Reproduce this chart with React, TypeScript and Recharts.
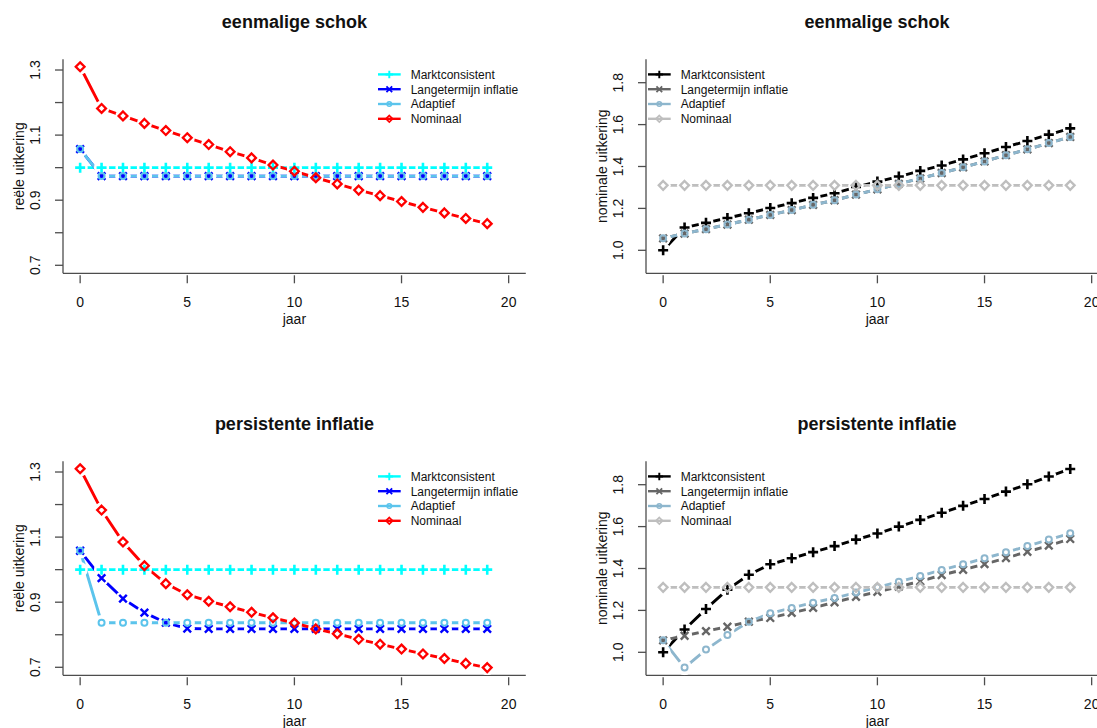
import React from 'react';
import { LineChart, Line, XAxis, YAxis, Legend } from 'recharts';

const jaren = [0, 1, 2, 3, 4, 5, 6, 7, 8, 9, 10, 11, 12, 13, 14, 15, 16, 17, 18, 19];

// eenmalige schok, reële uitkering
const schokReeelMarkt = [1.0, 1.0, 1.0, 1.0, 1.0, 1.0, 1.0, 1.0, 1.0, 1.0, 1.0, 1.0, 1.0, 1.0, 1.0, 1.0, 1.0, 1.0, 1.0, 1.0];
const schokReeelLange = [1.057, 0.974, 0.974, 0.974, 0.974, 0.974, 0.974, 0.974, 0.974, 0.974, 0.974, 0.974, 0.974, 0.974, 0.974, 0.974, 0.974, 0.974, 0.974, 0.974];
const schokReeelAdaptief = [1.057, 0.974, 0.974, 0.974, 0.974, 0.974, 0.974, 0.974, 0.974, 0.974, 0.974, 0.974, 0.974, 0.974, 0.974, 0.974, 0.974, 0.974, 0.974, 0.974];
const schokReeelNominaal = [1.31, 1.182, 1.159, 1.136, 1.114, 1.092, 1.071, 1.049, 1.03, 1.008, 0.989, 0.969, 0.95, 0.931, 0.914, 0.896, 0.878, 0.861, 0.844, 0.828];

// eenmalige schok, nominale uitkering
const schokNomMarkt = [1.0, 1.109, 1.131, 1.154, 1.177, 1.202, 1.225, 1.25, 1.272, 1.302, 1.328, 1.352, 1.379, 1.405, 1.434, 1.463, 1.493, 1.522, 1.552, 1.582];
const schokNomLange = [1.057, 1.08, 1.101, 1.123, 1.146, 1.169, 1.192, 1.217, 1.239, 1.266, 1.291, 1.317, 1.343, 1.369, 1.396, 1.424, 1.454, 1.482, 1.512, 1.541];
const schokNomAdaptief = [1.057, 1.08, 1.101, 1.123, 1.146, 1.169, 1.192, 1.217, 1.239, 1.266, 1.291, 1.317, 1.343, 1.369, 1.396, 1.424, 1.454, 1.482, 1.512, 1.541];
const schokNomNominaal = [1.31, 1.31, 1.31, 1.31, 1.31, 1.31, 1.31, 1.31, 1.31, 1.31, 1.31, 1.31, 1.31, 1.31, 1.31, 1.31, 1.31, 1.31, 1.31, 1.31];

// persistente inflatie, reële uitkering
const persReeelMarkt = [1.0, 1.0, 1.0, 1.0, 1.0, 1.0, 1.0, 1.0, 1.0, 1.0, 1.0, 1.0, 1.0, 1.0, 1.0, 1.0, 1.0, 1.0, 1.0, 1.0];
const persReeelLange = [1.058, 0.974, 0.911, 0.868, 0.837, 0.819, 0.818, 0.818, 0.818, 0.818, 0.818, 0.818, 0.818, 0.818, 0.818, 0.818, 0.818, 0.818, 0.818, 0.818];
const persReeelAdaptief = [1.058, 0.837, 0.837, 0.837, 0.837, 0.837, 0.837, 0.837, 0.837, 0.837, 0.837, 0.837, 0.837, 0.837, 0.837, 0.837, 0.837, 0.837, 0.837, 0.837];
const persReeelNominaal = [1.31, 1.183, 1.085, 1.012, 0.957, 0.923, 0.903, 0.886, 0.869, 0.852, 0.836, 0.818, 0.803, 0.786, 0.771, 0.756, 0.741, 0.727, 0.712, 0.699];

// persistente inflatie, nominale uitkering
const persNomMarkt = [1.0, 1.109, 1.207, 1.299, 1.37, 1.42, 1.449, 1.478, 1.507, 1.538, 1.567, 1.6, 1.632, 1.666, 1.699, 1.732, 1.767, 1.802, 1.839, 1.875];
const persNomLange = [1.057, 1.079, 1.101, 1.122, 1.146, 1.164, 1.188, 1.212, 1.239, 1.265, 1.289, 1.313, 1.339, 1.369, 1.394, 1.421, 1.45, 1.48, 1.509, 1.541];
const persNomAdaptief = [1.057, 0.927, 1.013, 1.083, 1.146, 1.186, 1.212, 1.237, 1.259, 1.285, 1.31, 1.337, 1.364, 1.393, 1.42, 1.449, 1.477, 1.507, 1.538, 1.568];
const persNomNominaal = [1.31, 1.31, 1.31, 1.31, 1.31, 1.31, 1.31, 1.31, 1.31, 1.31, 1.31, 1.31, 1.31, 1.31, 1.31, 1.31, 1.31, 1.31, 1.31, 1.31];

const namen = ['Marktconsistent', 'Langetermijn inflatie', 'Adaptief', 'Nominaal'];
const sleutels = ['markt', 'lange', 'adaptief', 'nominaal'];

const xTicks = [0, 5, 10, 15, 20];
const reeelTicks = [0.7, 0.8, 0.9, 1.0, 1.1, 1.2, 1.3];
const reeelLabels = [0.7, 0.9, 1.1, 1.3];
const nomTicks = [1.0, 1.2, 1.4, 1.6, 1.8];

type Vorm = 'plus' | 'kruis' | 'cirkel' | 'ruit';
const vormen: Vorm[] = ['plus', 'kruis', 'cirkel', 'ruit'];
const kleurenReeel = ['#00FFFF', '#0000FF', '#5BC4EC', '#FF0000'];
const kleurenNom = ['#000000', '#666666', '#8DB6CD', '#BEBEBE'];

const FONT = '"Liberation Sans", Arial, Helvetica, sans-serif';
const AS = '#4d4d4d';

const W = 582;
const H = 402;
const PLOT_LEFT = 63;
const PLOT_TOP = 59.3;
const PLOT_W = 462.8;
const PLOT_H = 214;
const Y_AXIS_W = 50;
const X_AXIS_H = 60;
const X_DOMEIN: [number, number] = [-0.8, 20.8];
const GAT = 7.6; // straal van de witte uitsparing rond elk punt

function maakRijen(reeksen: number[][]) {
    return jaren.map((jaar, i) => {
        const rij: Record<string, number> = { jaar };
        sleutels.forEach((k, s) => {
            rij[k] = reeksen[s][i];
        });
        return rij;
    });
}

function Marker({ vorm, cx, cy, kleur, schaal = 1 }: { vorm: Vorm; cx: number; cy: number; kleur: string; schaal?: number }) {
    if (vorm === 'plus') {
        const h = 5 * schaal;
        return <path d={`M${cx - h},${cy}H${cx + h}M${cx},${cy - h}V${cy + h}`} stroke={kleur} strokeWidth={2.6 * schaal} fill="none" />;
    }
    if (vorm === 'kruis') {
        const h = 3.8 * schaal;
        return (
            <path
                d={`M${cx - h},${cy - h}L${cx + h},${cy + h}M${cx - h},${cy + h}L${cx + h},${cy - h}`}
                stroke={kleur}
                strokeWidth={2.4 * schaal}
                fill="none"
            />
        );
    }
    if (vorm === 'cirkel') {
        return <circle cx={cx} cy={cy} r={3 * schaal} stroke={kleur} strokeWidth={2 * schaal} fill="none" />;
    }
    const h = 4.4 * schaal;
    return (
        <path
            d={`M${cx},${cy - h}L${cx + h},${cy}L${cx},${cy + h}L${cx - h},${cy}Z`}
            stroke={kleur}
            strokeWidth={2.3 * schaal}
            fill="none"
        />
    );
}

function XTick(props: any) {
    const { x, y, payload } = props;
    return (
        <g>
            <line x1={x} x2={x} y1={y + 2} y2={y + 10} stroke={AS} strokeWidth={1.3} />
            <text x={x} y={y + 33.4} textAnchor="middle" fontSize={14} fontFamily={FONT} fill="#111">
                {payload.value}
            </text>
        </g>
    );
}

function maakYTick(labels: number[]) {
    return (props: any) => {
        const { x, y, payload } = props;
        const toon = labels.includes(payload.value);
        return (
            <g>
                <line x1={x - 8} x2={x} y1={y} y2={y} stroke={AS} strokeWidth={1.3} />
                {toon && (
                    <text
                        transform={`translate(${x - 23.5},${y}) rotate(-90)`}
                        textAnchor="middle"
                        fontSize={14}
                        fontFamily={FONT}
                        fill="#111"
                    >
                        {payload.value.toFixed(1)}
                    </text>
                )}
            </g>
        );
    };
}

function LegendInhoud({ kleuren }: { kleuren: string[] }) {
    return (
        <svg width={170} height={62} style={{ display: 'block' }}>
            {namen.map((naam, i) => {
                const y = 7.4 + i * 14.8;
                return (
                    <g key={naam}>
                        <line x1={0} x2={22.7} y1={y} y2={y} stroke={kleuren[i]} strokeWidth={2.4} />
                        <Marker vorm={vormen[i]} cx={11.3} cy={y} kleur={kleuren[i]} schaal={0.75} />
                        <text x={32.7} y={y + 4.3} fontSize={12} fontFamily={FONT} fill="#111">
                            {naam}
                        </text>
                    </g>
                );
            })}
        </svg>
    );
}

interface PaneelProps {
    titel: string;
    yLabel: string;
    reeksen: number[][];
    kleuren: string[];
    yDomein: [number, number];
    yTicks: number[];
    yLabels: number[];
    legendLeft: number;
    left: number;
    top: number;
}

function Paneel({ titel, yLabel, reeksen, kleuren, yDomein, yTicks, yLabels, legendLeft, left, top }: PaneelProps) {
    const data = maakRijen(reeksen);
    return (
        <div style={{ position: 'absolute', left, top, width: W, height: H }}>
            {/* laag 1: assen, lijnen en legenda */}
            <div style={{ position: 'absolute', left: 0, top: 0 }}>
                <LineChart
                    width={W}
                    height={H}
                    data={data}
                    margin={{
                        top: PLOT_TOP,
                        left: PLOT_LEFT - Y_AXIS_W,
                        right: W - PLOT_LEFT - PLOT_W,
                        bottom: H - PLOT_TOP - PLOT_H - X_AXIS_H,
                    }}
                >
                    <XAxis
                        dataKey="jaar"
                        type="number"
                        domain={X_DOMEIN}
                        ticks={xTicks}
                        allowDataOverflow
                        interval={0}
                        height={X_AXIS_H}
                        tickSize={0}
                        tickMargin={0}
                        tickLine={false}
                        tick={<XTick />}
                        axisLine={{ stroke: AS, strokeWidth: 1.3 }}
                        label={(p: any) => {
                            const vb = p.viewBox;
                            return (
                                <text x={vb.x + vb.width / 2} y={vb.y + 51} textAnchor="middle" fontSize={14} fontFamily={FONT} fill="#111">
                                    jaar
                                </text>
                            );
                        }}
                    />
                    <YAxis
                        type="number"
                        domain={yDomein}
                        ticks={yTicks}
                        allowDataOverflow
                        interval={0}
                        width={Y_AXIS_W}
                        tickSize={0}
                        tickMargin={0}
                        tickLine={false}
                        tick={maakYTick(yLabels)}
                        axisLine={{ stroke: AS, strokeWidth: 1.3 }}
                        label={(p: any) => {
                            const vb = p.viewBox;
                            const ax = vb.x + vb.width;
                            const cy = vb.y + vb.height / 2;
                            return (
                                <text
                                    transform={`translate(${ax - 39},${cy}) rotate(-90)`}
                                    textAnchor="middle"
                                    fontSize={14}
                                    fontFamily={FONT}
                                    fill="#111"
                                >
                                    {yLabel}
                                </text>
                            );
                        }}
                    />
                    {sleutels.map((k, i) => (
                        <Line
                            key={`lijn-${k}`}
                            dataKey={k}
                            stroke={kleuren[i]}
                            strokeWidth={2.9}
                            dot={false}
                            activeDot={false}
                            isAnimationActive={false}
                            legendType="none"
                        />
                    ))}
                    <Legend
                        layout="vertical"
                        align="center"
                        verticalAlign="middle"
                        content={() => <LegendInhoud kleuren={kleuren} />}
                        wrapperStyle={{ left: legendLeft, top: 66.9, width: 170, height: 62 }}
                    />
                </LineChart>
            </div>
            {/* laag 2: witte uitsparingen rond de punten (zoals type="b") en de symbolen */}
            <div style={{ position: 'absolute', left: 0, top: 0, pointerEvents: 'none' }}>
                <LineChart
                    width={W}
                    height={H}
                    data={data}
                    margin={{
                        top: PLOT_TOP,
                        left: PLOT_LEFT,
                        right: W - PLOT_LEFT - PLOT_W,
                        bottom: H - PLOT_TOP - PLOT_H,
                    }}
                >
                    <XAxis dataKey="jaar" type="number" domain={X_DOMEIN} allowDataOverflow hide />
                    <YAxis type="number" domain={yDomein} allowDataOverflow hide />
                    {sleutels.map((k) => (
                        <Line
                            key={`halo-${k}`}
                            dataKey={k}
                            stroke="none"
                            dot={(p: any) => <circle key={p.index} cx={p.cx} cy={p.cy} r={GAT} fill="#ffffff" />}
                            activeDot={false}
                            isAnimationActive={false}
                            legendType="none"
                        />
                    ))}
                    {sleutels.map((k, i) => (
                        <Line
                            key={`punt-${k}`}
                            dataKey={k}
                            stroke="none"
                            dot={(p: any) => <Marker key={p.index} vorm={vormen[i]} cx={p.cx} cy={p.cy} kleur={kleuren[i]} />}
                            activeDot={false}
                            isAnimationActive={false}
                            legendType="none"
                        />
                    ))}
                </LineChart>
            </div>
            <div
                style={{
                    position: 'absolute',
                    left: PLOT_LEFT,
                    width: PLOT_W,
                    top: 13,
                    textAlign: 'center',
                    fontFamily: FONT,
                    fontWeight: 'bold',
                    fontSize: 18,
                    lineHeight: '18px',
                    color: '#111',
                }}
            >
                {titel}
            </div>
        </div>
    );
}

export default function App() {
    return (
        <div style={{ position: 'fixed', left: 0, top: 0, width: 1097, height: 728, overflow: 'hidden', background: '#fff' }}>
            <Paneel
                titel="eenmalige schok"
                yLabel="reële uitkering"
                reeksen={[schokReeelMarkt, schokReeelLange, schokReeelAdaptief, schokReeelNominaal]}
                kleuren={kleurenReeel}
                yDomein={[0.6754, 1.3329]}
                yTicks={reeelTicks}
                yLabels={reeelLabels}
                legendLeft={377.8}
                left={0}
                top={0}
            />
            <Paneel
                titel="eenmalige schok"
                yLabel="nominale uitkering"
                reeksen={[schokNomMarkt, schokNomLange, schokNomAdaptief, schokNomNominaal]}
                kleuren={kleurenNom}
                yDomein={[0.8902, 1.9117]}
                yTicks={nomTicks}
                yLabels={nomTicks}
                legendLeft={65.8}
                left={582.6}
                top={0}
            />
            <Paneel
                titel="persistente inflatie"
                yLabel="reële uitkering"
                reeksen={[persReeelMarkt, persReeelLange, persReeelAdaptief, persReeelNominaal]}
                kleuren={kleurenReeel}
                yDomein={[0.6754, 1.3329]}
                yTicks={reeelTicks}
                yLabels={reeelLabels}
                legendLeft={377.8}
                left={0}
                top={401.7}
            />
            <Paneel
                titel="persistente inflatie"
                yLabel="nominale uitkering"
                reeksen={[persNomMarkt, persNomLange, persNomAdaptief, persNomNominaal]}
                kleuren={kleurenNom}
                yDomein={[0.8902, 1.9117]}
                yTicks={nomTicks}
                yLabels={nomTicks}
                legendLeft={65.8}
                left={582.6}
                top={401.7}
            />
        </div>
    );
}
